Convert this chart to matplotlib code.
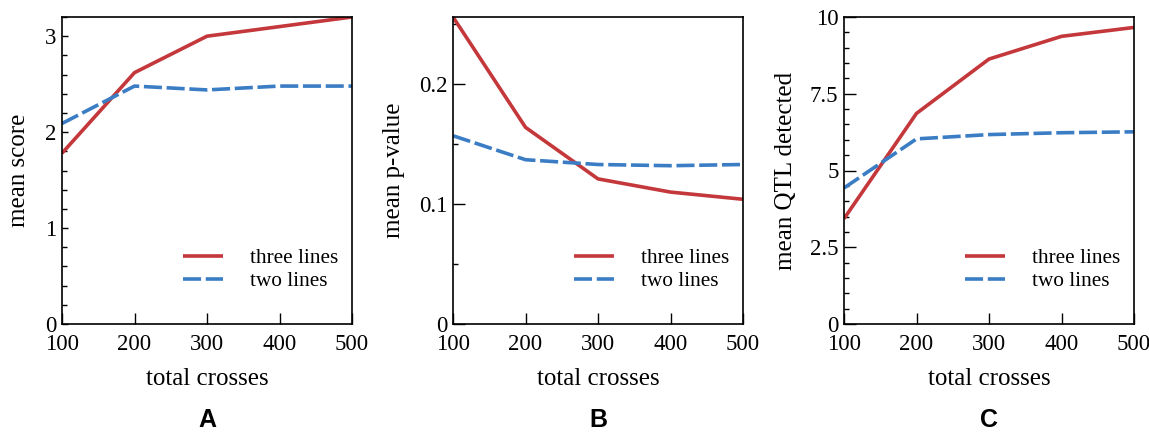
import numpy as np
import matplotlib
matplotlib.use("Agg")
from matplotlib import pyplot as plt
from matplotlib.ticker import MultipleLocator

# total crosses on the x axis
crosses = [100, 200, 300, 400, 500]

# mean score
score_three = [1.78, 2.62, 3.00, 3.10, 3.20]
score_two = [2.09, 2.48, 2.44, 2.48, 2.48]

# mean p-value
pval_three = [0.256, 0.164, 0.121, 0.110, 0.104]
pval_two = [0.157, 0.137, 0.133, 0.132, 0.133]

# mean QTL detected
qtl_three = [3.43, 6.86, 8.63, 9.37, 9.66]
qtl_two = [4.43, 6.03, 6.17, 6.23, 6.26]

panel_letters = ["A", "B", "C"]
y_labels = ["mean score", "mean p-value", "mean QTL detected"]
y_limits = [(0, 3.2), (0, 0.256), (0, 10)]
y_major = [[0, 1, 2, 3], [0, 0.1, 0.2], [0, 2.5, 5, 7.5, 10]]
y_major_labels = [["0", "1", "2", "3"], ["0", "0.1", "0.2"], ["0", "2.5", "5", "7.5", "10"]]
y_minor_step = [0.2, 0.05, 0.5]

RED = "#c4373b"
BLUE = "#3b7dc4"

plt.rcParams["font.family"] = ["Liberation Serif", "DejaVu Serif"]

fig = plt.figure(figsize=(11.49, 4.32), dpi=100)
lefts = [62, 453, 844]
ylab_x = [-0.11, -0.166, -0.162]
major_len = [4.5, 8.5, 8.5]

series = [(score_three, score_two), (pval_three, pval_two), (qtl_three, qtl_two)]

for i, (three, two) in enumerate(series):
    ax = fig.add_axes([lefts[i] / 1149, 108 / 432, 290 / 1149, 307 / 432])
    ax.plot(crosses, three, color=RED, lw=2.6, label="three lines", solid_capstyle="butt")
    ax.plot(crosses, two, color=BLUE, lw=2.6, dashes=(5, 1.3), label="two lines")

    ax.set_xlim(100, 500)
    ax.set_ylim(*y_limits[i])
    ax.set_xticks(crosses)
    ax.set_xticklabels([str(c) for c in crosses])
    ax.set_yticks(y_major[i])
    ax.set_yticklabels(y_major_labels[i])
    ax.yaxis.set_minor_locator(MultipleLocator(y_minor_step[i]))

    ax.tick_params(axis="x", direction="in", length=8, width=1, pad=7, labelsize=16.5)
    ax.tick_params(axis="y", which="major", direction="in", length=major_len[i], width=1,
                   pad=4, labelsize=16.5)
    ax.tick_params(axis="y", which="minor", direction="in", length=3.8, width=1)
    for s in ax.spines.values():
        s.set_linewidth(1.2)

    ax.set_xlabel("total crosses", fontsize=18)
    ax.xaxis.set_label_coords(0.5, -0.143)
    ax.set_ylabel(y_labels[i], fontsize=18)
    ax.yaxis.set_label_coords(ylab_x[i], 0.5)

    ax.legend(loc="center left", bbox_to_anchor=(0.417, 0.177), frameon=False,
              fontsize=15.3, borderpad=0, handlelength=1.88, handletextpad=1.27,
              labelspacing=0.16, borderaxespad=0)

    fig.text((lefts[i] + 145) / 1149, 12 / 432, panel_letters[i], ha="center", va="center",
             fontsize=18, fontweight="bold", family="Liberation Sans")

fig.savefig("out.png", dpi=100)
